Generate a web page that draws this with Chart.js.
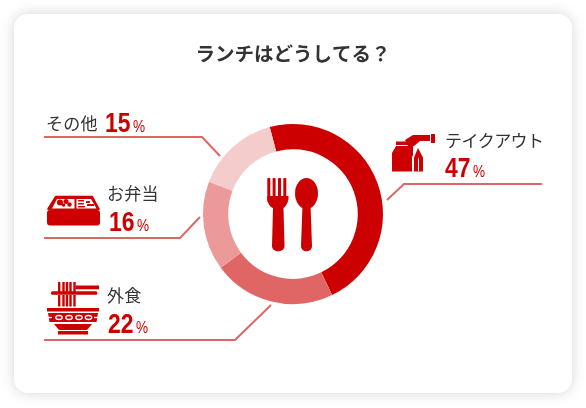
<!DOCTYPE html>
<html lang="ja">
<head>
<meta charset="utf-8">
<title>ランチはどうしてる？</title>
<script src="https://cdn.jsdelivr.net/npm/chart.js@4/dist/chart.umd.min.js"></script>
<style>
html, body { margin: 0; padding: 0; background: #fff; }
#wrap { position: relative; width: 586px; height: 408px; overflow: hidden; }
#card { position: absolute; left: 14px; top: 14px; width: 558px; height: 379px; background: #fff; border-radius: 14px; box-shadow: 0 0 14px rgba(0,0,0,.17); }
#lunch { position: absolute; left: 0; top: 0; }
</style>
</head>
<body>
<div id="wrap">
  <div id="card"></div>
  <canvas id="lunch" width="586" height="408"></canvas>
</div>
<script>
var chartTitle = "ランチはどうしてる？";
var categories = ["テイクアウト", "外食", "お弁当", "その他"];
var shares = [47, 22, 16, 15];
var sliceColors = ["#CC0000", "#E06666", "#EB9999", "#F5CCCC"];

var RED = "#CC0000";
var LINE = "#E06666";
var INK = "#333333";
var JP = '"Noto Sans CJK JP", "Noto Sans", sans-serif';
var NUM = '"Liberation Sans", sans-serif';

// where each label sits: name x / y, number x / baseline, leader polyline
var callouts = [
  { nameX: 445, nameY: 147, gap: "-0.6px", numX: 445, numY: 177, line: [[542, 184], [404, 184], [387, 200]] },
  { nameX: 107, nameY: 302, gap: "0.3px", numX: 108, numY: 333, line: [[44, 340], [235, 340], [271, 305]] },
  { nameX: 107, nameY: 200, gap: "0.3px", numX: 109, numY: 231, line: [[44, 238], [180, 238], [200, 217]] },
  { nameX: 46, nameY: 130, gap: "0.3px", numX: 105, numY: 132, line: [[44, 137], [202, 137], [220, 156]] }
];

function poly(ctx, pts, color) {
  ctx.fillStyle = color;
  ctx.beginPath();
  pts.forEach(function (p, i) {
    if (i) ctx.lineTo(p[0], p[1]); else ctx.moveTo(p[0], p[1]);
  });
  ctx.closePath();
  ctx.fill();
}

function rrect(ctx, x, y, w, h, r, color) {
  ctx.fillStyle = color;
  ctx.beginPath();
  ctx.roundRect(x, y, w, h, r);
  ctx.fill();
}

// narrow text, squeezed sideways
function squeezed(ctx, text, x, y, sx) {
  ctx.save();
  ctx.translate(x, y);
  ctx.scale(sx, 1);
  ctx.fillText(text, 0, 0);
  ctx.restore();
  return ctx.measureText(text).width * sx;
}

function drawCutlery(ctx) {
  // fork
  [267.5, 272.8, 278.2, 283.5].forEach(function (x) {
    rrect(ctx, x - 0.2, 178, 3, 24, 0.8, RED);
  });
  ctx.fillStyle = RED;
  ctx.beginPath();
  ctx.moveTo(267.3, 196);
  ctx.lineTo(288.5, 196);
  ctx.bezierCurveTo(289, 203, 285, 207, 283.5, 208);
  ctx.lineTo(284.5, 246);
  ctx.bezierCurveTo(284.5, 253, 272, 253, 272, 246);
  ctx.lineTo(273, 208);
  ctx.bezierCurveTo(270, 207, 266.8, 203, 267.3, 196);
  ctx.fill();
  // spoon
  ctx.beginPath();
  ctx.ellipse(306.5, 193.5, 11.5, 15.5, 0, 0, Math.PI * 2);
  ctx.fill();
  ctx.beginPath();
  ctx.moveTo(302.5, 205);
  ctx.lineTo(310.5, 205);
  ctx.lineTo(312, 246);
  ctx.bezierCurveTo(312, 253, 301, 253, 301, 246);
  ctx.closePath();
  ctx.fill();
}

function drawBag(ctx) {
  poly(ctx, [[392, 153], [396, 146], [413, 146], [413, 171.5], [392, 171.5]], RED);
  poly(ctx, [[396, 141.5], [412, 141.5], [412, 145], [396, 145]], RED);
  poly(ctx, [[405, 140], [413, 135], [430, 135], [430, 141], [420, 141], [414, 146], [408, 146]], RED);
  rrect(ctx, 431, 134, 4, 9, 0, RED);
  // gusset with white outline
  poly(ctx, [[418, 146], [424, 157], [424, 173], [412, 173], [412, 157]], "#fff");
  poly(ctx, [[418, 148], [423, 157.5], [423, 171.5], [414, 171.5], [414, 157.5]], RED);
  poly(ctx, [[418, 157], [419, 160], [419, 171], [418, 171]], "#fff");
}

function drawBento(ctx) {
  rrect(ctx, 47, 210, 53, 15.5, 3, RED);
  ctx.strokeStyle = RED;
  ctx.lineWidth = 2.5;
  ctx.lineJoin = "round";
  ctx.fillStyle = RED;
  ctx.beginPath();
  ctx.moveTo(56, 197);
  ctx.lineTo(92, 197);
  ctx.lineTo(98.5, 209);
  ctx.lineTo(48.5, 209);
  ctx.closePath();
  ctx.fill();
  ctx.stroke();
  poly(ctx, [[57, 199], [74.5, 199], [74.5, 208.5], [52, 208.5]], "#fff");
  poly(ctx, [[76.5, 199], [91, 199], [96.5, 208.5], [76.5, 208.5]], "#fff");
  // food
  [[60, 202.5, 3], [66, 201.5, 2.5], [69.5, 204.5, 2.2], [63.5, 205, 1.8]].forEach(function (c) {
    ctx.fillStyle = RED;
    ctx.beginPath();
    ctx.arc(c[0], c[1], c[2], 0, Math.PI * 2);
    ctx.fill();
  });
  rrect(ctx, 78, 200, 6, 1.6, 0.5, RED);
  rrect(ctx, 78, 203, 6, 1.6, 0.5, RED);
  rrect(ctx, 78, 206, 7, 1.6, 0.5, RED);
  rrect(ctx, 86, 201, 4, 2, 0.5, RED);
  rrect(ctx, 87, 204, 7, 2, 0.5, RED);
}

function drawBowl(ctx) {
  // noodles
  [58, 62.3, 65.8, 69.3, 73.3].forEach(function (x) {
    rrect(ctx, x, 282, 2.4, 10, 0, RED);
    rrect(ctx, x, 295, 2.4, 11.5, 0, RED);
  });
  // chopsticks
  rrect(ctx, 75.5, 285.5, 23.5, 3.8, 0, RED);
  rrect(ctx, 51, 291.3, 46.3, 3.5, 1.5, RED);
  // bowl
  rrect(ctx, 47, 308, 52, 3.5, 0, RED);
  poly(ctx, [[48, 313], [98, 313], [96.5, 322], [49.5, 322]], RED);
  poly(ctx, [[54, 324], [92, 324], [87, 330], [59, 330]], RED);
  rrect(ctx, 58, 331, 30, 3.5, 0, RED);
  // ovals on the band
  [50, 59, 69, 79, 88.5, 96].forEach(function (x, i) {
    ctx.strokeStyle = "#fff";
    ctx.lineWidth = 1.3;
    ctx.beginPath();
    if (i === 0 || i === 5) { ctx.moveTo(x - 2, 317.5); ctx.lineTo(x + 2, 317.5); }
    else { ctx.ellipse(x, 317.5, 3.2, 2, 0, 0, Math.PI * 2); }
    ctx.stroke();
  });
}

var calloutPlugin = {
  id: "callouts",
  afterDraw: function (chart) {
    var ctx = chart.ctx;
    ctx.save();
    callouts.forEach(function (c, i) {
      ctx.strokeStyle = LINE;
      ctx.lineWidth = 2;
      ctx.lineJoin = "miter";
      ctx.beginPath();
      c.line.forEach(function (p, j) {
        if (j) ctx.lineTo(p[0], p[1]); else ctx.moveTo(p[0], p[1]);
      });
      ctx.stroke();

      ctx.textAlign = "left";
      ctx.textBaseline = "alphabetic";
      ctx.fillStyle = INK;
      ctx.font = "400 17px " + JP;
      ctx.letterSpacing = c.gap;
      ctx.fillText(categories[i], c.nameX, c.nameY);
      ctx.letterSpacing = "0px";

      ctx.fillStyle = RED;
      ctx.font = "700 27px " + NUM;
      var w = squeezed(ctx, String(shares[i]), c.numX, c.numY, 0.85);
      ctx.font = "400 16px " + NUM;
      squeezed(ctx, "%", c.numX + w + 2.5, c.numY, 0.85);
    });
    drawCutlery(ctx);
    drawBag(ctx);
    drawBento(ctx);
    drawBowl(ctx);
    ctx.restore();
  }
};

new Chart(document.getElementById("lunch"), {
  type: "doughnut",
  data: {
    labels: categories,
    datasets: [{
      data: shares,
      backgroundColor: sliceColors,
      borderWidth: 0
    }]
  },
  options: {
    responsive: false,
    animation: false,
    rotation: -15,
    cutout: "72%",
    layout: { padding: { top: 42, bottom: 104, left: 0, right: 0 } },
    plugins: {
      legend: { display: false },
      tooltip: { enabled: false },
      title: {
        display: true,
        text: chartTitle,
        color: INK,
        font: { family: JP, size: 19.5, weight: "700" },
        padding: { top: 0, bottom: 58.6 }
      }
    }
  },
  plugins: [calloutPlugin]
});
</script>
</body>
</html>
